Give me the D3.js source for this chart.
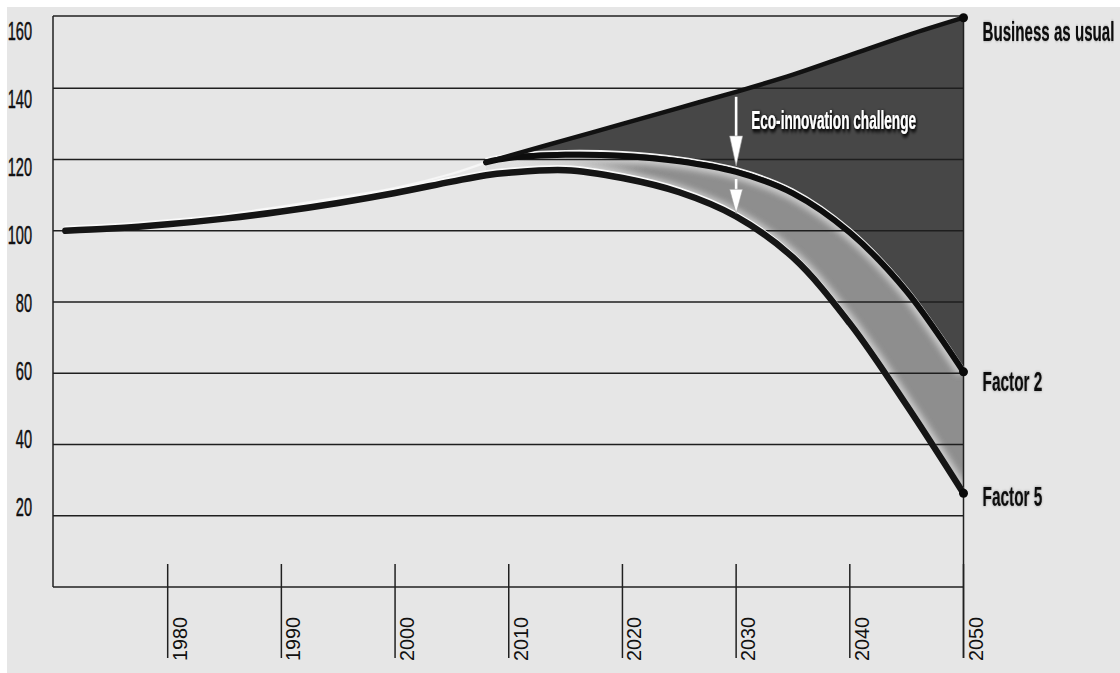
<!DOCTYPE html>
<html>
<head>
<meta charset="utf-8">
<script src="https://cdn.jsdelivr.net/npm/d3@7"></script>
<style>
  html, body { margin: 0; padding: 0; background: #ffffff; }
  svg { display: block; }
</style>
</head>
<body>
<svg id="chart" width="1120" height="673"></svg>
<script>
// Index of resource use, 1971 = 100, under three pathways
const years = [1971, 1975, 1980, 1985, 1990, 1995, 2000, 2005, 2008, 2010, 2015, 2020, 2025, 2030, 2035, 2040, 2045, 2050];
const businessAsUsual = [100.3, 101.2, 102.6, 104.5, 106.8, 109.3, 112.0, 116.0, 119.2, 121.0, 125.5, 130.0, 134.5, 139.0, 143.8, 149.3, 154.8, 159.8];
const factor2 = [100.3, 101.2, 102.6, 104.5, 106.8, 109.3, 112.0, 116.0, 119.2, 120.4, 121.3, 121.0, 119.5, 116.5, 110.5, 99.5, 83.0, 60.4];
const factor5 = [100.0, 100.6, 101.8, 103.4, 105.4, 107.8, 110.6, 113.8, 115.6, 116.3, 117.0, 114.8, 110.8, 104.0, 92.5, 74.0, 51.0, 26.3];

const splitYear = 2008;          // pathways diverge here
const arrowYear = 2030;          // where the challenge arrows sit
const xTickValues = [1980, 1990, 2000, 2010, 2020, 2030, 2040, 2050];
const yTickValues = [20, 40, 60, 80, 100, 120, 140, 160];
const seriesNames = ["Business as usual", "Factor 2", "Factor 5"];
const annotationText = "Eco-innovation challenge";

const rows = years.map((yr, i) => ({ year: yr, bau: businessAsUsual[i], f2: factor2[i], f5: factor5[i] }));
const early = rows.filter(d => d.year <= splitYear);
const late = rows.filter(d => d.year >= splitYear);
const at = (yr) => rows.find(d => d.year === yr);

const svg = d3.select("#chart");
const W = 1120, H = 673;

const x = d3.scaleLinear().domain([1970, 2050]).range([54, 963.5]);
const y = d3.scaleLinear().domain([0, 160]).range([587, 17]);
// tick labels sit on their own slightly tighter ladder
const yLabel = d3.scaleLinear().domain([20, 160]).range([507, 31]);

const plotLeft = 53, plotRight = x(2050), plotTop = y(160), plotBottom = y(0);

// ---------- defs ----------
const defs = svg.append("defs");

const grad = defs.append("linearGradient")
  .attr("id", "bandFill").attr("gradientUnits", "userSpaceOnUse")
  .attr("x1", x(2011)).attr("x2", x(2022)).attr("y1", 0).attr("y2", 0);
grad.append("stop").attr("offset", 0).attr("stop-color", "#dcdcdc");
grad.append("stop").attr("offset", 1).attr("stop-color", "#8e8e8e");

defs.append("filter").attr("id", "soft")
  .attr("x", "-10%").attr("y", "-10%").attr("width", "120%").attr("height", "120%")
  .append("feGaussianBlur").attr("stdDeviation", 3);

defs.append("filter").attr("id", "edgeBlur")
  .append("feGaussianBlur").attr("stdDeviation", 0.6);

const shadow = defs.append("filter").attr("id", "textShadow")
  .attr("x", "-20%").attr("y", "-50%").attr("width", "140%").attr("height", "200%");
shadow.append("feGaussianBlur").attr("in", "SourceAlpha").attr("stdDeviation", 2.2).attr("result", "b");
shadow.append("feOffset").attr("in", "b").attr("dx", 1).attr("dy", 1.5).attr("result", "o");
shadow.append("feFlood").attr("flood-color", "#000").attr("flood-opacity", 0.95).attr("result", "c");
shadow.append("feComposite").attr("in", "c").attr("in2", "o").attr("operator", "in").attr("result", "s");
const m = shadow.append("feMerge");
m.append("feMergeNode").attr("in", "s");
m.append("feMergeNode").attr("in", "s");
m.append("feMergeNode").attr("in", "SourceGraphic");

const halo = defs.append("filter").attr("id", "labelHalo")
  .attr("x", "-5%").attr("y", "-30%").attr("width", "110%").attr("height", "160%");
halo.append("feGaussianBlur").attr("in", "SourceAlpha").attr("stdDeviation", 1.4).attr("result", "b");
halo.append("feFlood").attr("flood-color", "#000").attr("flood-opacity", 0.35).attr("result", "c");
halo.append("feComposite").attr("in", "c").attr("in2", "b").attr("operator", "in").attr("result", "s");
const hm = halo.append("feMerge");
hm.append("feMergeNode").attr("in", "s");
hm.append("feMergeNode").attr("in", "SourceGraphic");

// ---------- background ----------
svg.append("rect").attr("x", 0).attr("y", 0).attr("width", W).attr("height", H).attr("fill", "#ffffff");
svg.append("rect").attr("x", 7).attr("y", 7).attr("width", W - 7).attr("height", H - 7).attr("fill", "#e6e6e6");

const curve = d3.curveCatmullRom.alpha(0.5);
const lineOf = (key) => d3.line().x(d => x(d.year)).y(d => y(d[key])).curve(curve);

// ---------- filled regions ----------
const gapArea = d3.area().x(d => x(d.year)).y0(d => y(d.f2)).y1(d => y(d.bau)).curve(curve);
const bandArea = d3.area().x(d => x(d.year)).y0(d => y(d.f5)).y1(d => y(d.f2)).curve(curve);

svg.append("path").attr("d", gapArea(late)).attr("fill", "#474747");
svg.append("path").attr("d", bandArea(late)).attr("fill", "url(#bandFill)");

defs.append("clipPath").attr("id", "bandClip")
  .append("path").attr("d", bandArea(late));

// soft light glow along both edges of the band
const glow = svg.append("g").attr("clip-path", "url(#bandClip)");
["f2", "f5"].forEach(k => {
  glow.append("path").attr("d", lineOf(k)(late))
    .attr("fill", "none").attr("stroke", "#e2e2e2").attr("stroke-width", 14)
    .attr("opacity", 0.75).attr("filter", "url(#soft)");
});

// ---------- grid ----------
const grid = svg.append("g");
grid.selectAll("line.h").data(yTickValues.filter(v => v < 160)).join("line")
  .attr("x1", plotLeft).attr("x2", plotRight)
  .attr("y1", d => y(d)).attr("y2", d => y(d))
  .attr("stroke", "#1e1e1e").attr("stroke-width", 1.3);

// frame
const frame = svg.append("g").attr("stroke", "#202020").attr("stroke-width", 1.5).attr("fill", "none");
frame.append("line").attr("x1", plotLeft).attr("x2", plotLeft).attr("y1", plotTop - 1).attr("y2", plotBottom);
frame.append("line").attr("x1", plotLeft).attr("x2", plotRight).attr("y1", plotTop - 1).attr("y2", plotTop - 1);
frame.append("line").attr("x1", plotLeft).attr("x2", plotRight).attr("y1", plotBottom).attr("y2", plotBottom);
frame.append("line").attr("x1", plotRight).attr("x2", plotRight).attr("y1", plotTop - 1).attr("y2", 658);

// x ticks cross the baseline
frame.selectAll("line.tick").data(xTickValues).join("line")
  .attr("class", "tick")
  .attr("x1", d => x(d)).attr("x2", d => x(d))
  .attr("y1", 564).attr("y2", 658);

// ---------- curves ----------
const curves = svg.append("g").attr("fill", "none").attr("stroke-linecap", "round");

// light upper edge of the shared trunk
curves.append("path").attr("d", lineOf("bau")(early))
  .attr("stroke", "#f6f6f6").attr("stroke-width", 2.2).attr("filter", "url(#edgeBlur)");

// highlights riding on top of the curves
curves.append("path").attr("d", lineOf("f5")(rows))
  .attr("transform", "translate(0,-4)")
  .attr("stroke", "#fafafa").attr("stroke-width", 2).attr("filter", "url(#edgeBlur)");
curves.append("path").attr("d", lineOf("f2")(late))
  .attr("transform", "translate(0,-4)")
  .attr("stroke", "#f4f4f4").attr("stroke-width", 1.8).attr("filter", "url(#edgeBlur)");

curves.append("path").attr("d", lineOf("f5")(rows))
  .attr("stroke", "#151515").attr("stroke-width", 6.5);
curves.append("path").attr("d", lineOf("f2")(late))
  .attr("stroke", "#0d0d0d").attr("stroke-width", 6);
curves.append("path").attr("d", lineOf("bau")(late))
  .attr("stroke", "#111111").attr("stroke-width", 4.5);

// end points
const last = rows[rows.length - 1];
svg.append("g").selectAll("circle").data(["bau", "f2", "f5"]).join("circle")
  .attr("cx", x(last.year)).attr("cy", k => y(last[k])).attr("r", 4.5).attr("fill", "#0a0a0a");

// ---------- arrows ----------
function arrow(g, xp, y0, y1) {
  const len = y1 - y0;
  const head = Math.min(30, len * 0.7);
  const half = 6.5;
  g.append("line").attr("x1", xp).attr("x2", xp).attr("y1", y0).attr("y2", y1 - head + 1)
    .attr("stroke", "#ffffff").attr("stroke-width", 2.6);
  g.append("path")
    .attr("d", `M${xp - half},${y1 - head} L${xp + half},${y1 - head} L${xp},${y1} Z`)
    .attr("fill", "#ffffff").attr("stroke", "#9a9a9a").attr("stroke-width", 0.6);
}
const a = at(arrowYear);
const arrows = svg.append("g");
arrow(arrows, x(arrowYear), y(a.bau) + 5, y(a.f2) - 6);
arrow(arrows, x(arrowYear), y(a.f2) + 7, y(a.f5) - 3);

// ---------- text ----------
const fontFamily = "'Liberation Sans', Arial, 'DejaVu Sans', sans-serif";

// squeeze a text horizontally to a target width, anchored at its start
function narrowTo(sel, left, baseline, width) {
  sel.each(function (d, i) {
    const node = this;
    const natural = node.getComputedTextLength();
    const w = typeof width === "function" ? width(d, i) : width;
    const b = typeof baseline === "function" ? baseline(d, i) : baseline;
    d3.select(node).attr("transform", `translate(${left},${b}) scale(${w / natural},1)`);
  });
}

// y tick labels (narrow)
svg.append("g").selectAll("text").data(yTickValues).join("text")
  .attr("transform", d => `translate(32,${yLabel(d)}) scale(0.56,1)`)
  .attr("dy", "0.36em")
  .attr("text-anchor", "end")
  .attr("font-family", fontFamily).attr("font-size", 26)
  .attr("fill", "#111").attr("stroke", "#111").attr("stroke-width", 0.5)
  .text(d => d);

// x tick labels, rotated
svg.append("g").selectAll("text").data(xTickValues).join("text")
  .attr("transform", d => `translate(${x(d) + 19},661) rotate(-90)`)
  .attr("text-anchor", "start")
  .attr("font-family", fontFamily).attr("font-size", 21)
  .attr("textLength", 44).attr("lengthAdjust", "spacingAndGlyphs")
  .attr("fill", "#111")
  .text(d => d);

// series labels at the 2050 end points
const endKeys = ["bau", "f2", "f5"];
const endShift = [23, 19, 13];
const endWidth = [132, 60, 60];
const endLabels = svg.append("g").selectAll("text").data(seriesNames).join("text")
  .attr("font-family", fontFamily).attr("font-size", 27).attr("font-weight", "bold")
  .attr("fill", "#0a0a0a").attr("filter", "url(#labelHalo)")
  .text(d => d);
narrowTo(endLabels, x(2050) + 19, (d, i) => y(last[endKeys[i]]) + endShift[i], (d, i) => endWidth[i]);

// annotation inside the gap
const note = svg.append("text")
  .attr("font-family", fontFamily).attr("font-size", 25).attr("font-weight", "bold")
  .attr("fill", "#ffffff").attr("filter", "url(#textShadow)")
  .text(annotationText);
narrowTo(note, x(arrowYear) + 15, y(128.5), 165);
</script>
</body>
</html>
